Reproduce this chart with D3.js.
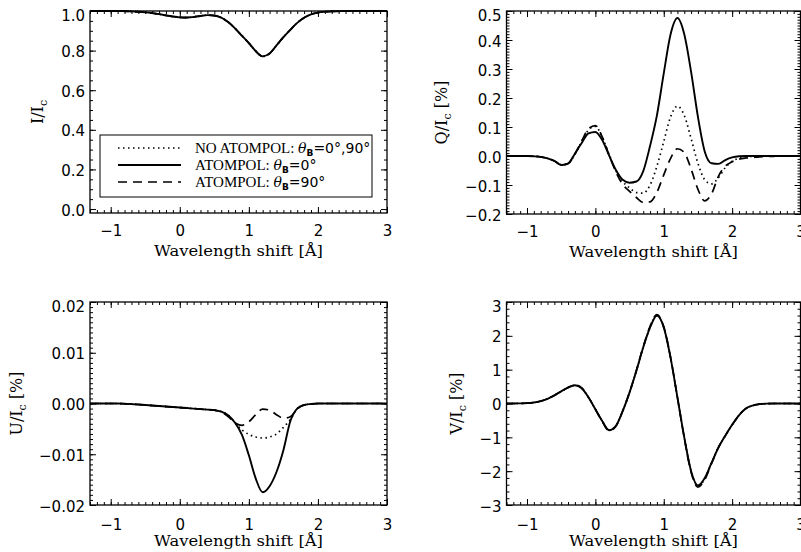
<!DOCTYPE html>
<html>
<head>
<meta charset="utf-8">
<script src="https://cdn.jsdelivr.net/npm/d3@7"></script>
<style>
  body { margin: 0; background: #fff; }
  svg { display: block; }
</style>
</head>
<body>
<svg id="chart" width="801" height="552"></svg>
<script>
// wavelength shift grid [Å]
const wavelength = [-1.3, -1.2, -1.1, -1.0, -0.9, -0.8, -0.7, -0.6, -0.5, -0.4, -0.3, -0.2, -0.1, 0.0,
  0.1, 0.2, 0.3, 0.4, 0.5, 0.6, 0.7, 0.8, 0.9, 1.0, 1.1, 1.2, 1.3, 1.4, 1.5, 1.6, 1.7, 1.8, 1.9, 2.0,
  2.1, 2.2, 2.3, 2.4, 2.5, 2.6, 2.7, 2.8, 2.9, 3.0]

// Stokes I (all three cases overlap)
const iProfile = [1.0, 1.0, 1.0, 1.0, 1.0, 0.999, 0.998, 0.996, 0.993, 0.989, 0.984, 0.978, 0.972, 0.968,
  0.967, 0.970, 0.975, 0.979, 0.977, 0.966, 0.944, 0.912, 0.875, 0.838, 0.797, 0.771, 0.785, 0.826, 0.868, 0.905, 0.940, 0.966, 0.983, 0.992,
  0.996, 0.998, 0.999, 1.0, 1.0, 1.0, 1.0, 1.0, 1.0, 1.0]

// Stokes Q/Ic [%]
const qNoAtompol = [0, 0, 0, 0, -0.001, -0.003, -0.008, -0.017, -0.030, -0.026, 0.006, 0.050, 0.090, 0.102,
  0.065, 0.005, -0.050, -0.088, -0.110, -0.126, -0.128, -0.100, -0.035, 0.050, 0.135, 0.172, 0.140, 0.060, -0.025, -0.082, -0.096, -0.075, -0.040, -0.018,
  -0.008, -0.003, -0.001, 0, 0, 0, 0, 0, 0, 0]
const qAtompol0 = [0, 0, 0, 0, -0.001, -0.003, -0.008, -0.017, -0.031, -0.026, 0.008, 0.045, 0.078, 0.083,
  0.055, 0.002, -0.048, -0.082, -0.092, -0.088, -0.052, 0.035, 0.140, 0.285, 0.420, 0.476, 0.420, 0.290, 0.135, 0.015, -0.025, -0.027, -0.014, -0.005,
  -0.001, 0, 0, 0, 0, 0, 0, 0, 0, 0]
const qAtompol90 = [0, 0, 0, 0, -0.001, -0.003, -0.008, -0.017, -0.030, -0.026, 0.006, 0.052, 0.094, 0.105,
  0.066, 0.004, -0.055, -0.098, -0.122, -0.143, -0.160, -0.158, -0.125, -0.065, -0.008, 0.025, 0.012, -0.045, -0.115, -0.155, -0.130, -0.070, -0.035, -0.020,
  -0.011, -0.007, -0.005, -0.003, -0.002, -0.001, 0, 0, 0, 0]

// Stokes U/Ic [%]
const uNoAtompol = [0, 0, 0, 0, 0, -0.00005, -0.0001, -0.0002, -0.0003, -0.0004, -0.0005, -0.0006, -0.0007, -0.0008,
  -0.0009, -0.0010, -0.0011, -0.0012, -0.0013, -0.0016, -0.0023, -0.0038, -0.0052, -0.0061, -0.0066, -0.0068, -0.0066, -0.0060, -0.0047, -0.0032, -0.0010, -0.0003, -0.0001, 0,
  0, 0, 0, 0, 0, 0, 0, 0, 0, 0]
const uAtompol0 = [0, 0, 0, 0, 0, -0.00005, -0.0001, -0.0002, -0.0003, -0.0004, -0.0005, -0.0006, -0.0007, -0.0008,
  -0.0009, -0.0010, -0.0011, -0.0012, -0.0013, -0.0016, -0.0023, -0.0038, -0.0062, -0.0102, -0.0148, -0.0175, -0.0163, -0.0135, -0.0092, -0.0035, -0.0010, -0.0003, -0.0001, 0,
  0, 0, 0, 0, 0, 0, 0, 0, 0, 0]
const uAtompol90 = [0, 0, 0, 0, 0, -0.00005, -0.0001, -0.0002, -0.0003, -0.0004, -0.0005, -0.0006, -0.0007, -0.0008,
  -0.0009, -0.0010, -0.0011, -0.0012, -0.0013, -0.0017, -0.0026, -0.0038, -0.0043, -0.0036, -0.0022, -0.0011, -0.0013, -0.0022, -0.0029, -0.0026, -0.0011, -0.0003, -0.0001, 0,
  0, 0, 0, 0, 0, 0, 0, 0, 0, 0]

// Stokes V/Ic [%]
const vNoAtompol = [0, 0, 0.004, 0.01, 0.03, 0.07, 0.14, 0.24, 0.36, 0.47, 0.54, 0.45, 0.18, -0.17,
  -0.52, -0.79, -0.66, -0.22, 0.33, 0.97, 1.66, 2.25, 2.60, 2.25, 1.35, 0.18, -1.0, -2.0, -2.44, -2.22, -1.75, -1.3, -0.95, -0.63,
  -0.35, -0.15, -0.06, -0.02, -0.005, 0, 0, 0, 0, 0]
const vAtompol0 = [0, 0, 0.004, 0.01, 0.03, 0.07, 0.14, 0.24, 0.36, 0.47, 0.54, 0.45, 0.18, -0.17,
  -0.52, -0.79, -0.66, -0.22, 0.33, 0.97, 1.66, 2.25, 2.60, 2.25, 1.35, 0.18, -1.0, -2.0, -2.42, -2.2, -1.75, -1.3, -0.95, -0.63,
  -0.35, -0.15, -0.06, -0.02, -0.005, 0, 0, 0, 0, 0]
const vAtompol90 = [0, 0, 0.004, 0.01, 0.03, 0.07, 0.14, 0.24, 0.36, 0.47, 0.55, 0.46, 0.18, -0.17,
  -0.53, -0.81, -0.67, -0.22, 0.33, 0.98, 1.68, 2.28, 2.63, 2.27, 1.36, 0.18, -1.02, -2.03, -2.47, -2.25, -1.77, -1.3, -0.95, -0.63,
  -0.35, -0.15, -0.06, -0.02, -0.005, 0, 0, 0, 0, 0]

const xTicks = [-1, 0, 1, 2, 3]
const iTicks = [0, 0.2, 0.4, 0.6, 0.8, 1.0]
const qTicks = [-0.2, -0.1, 0, 0.1, 0.2, 0.3, 0.4, 0.5]
const uTicks = [-0.02, -0.01, 0, 0.01, 0.02]
const vTicks = [-3, -2, -1, 0, 1, 2, 3]

const legendCases = ['NO ATOMPOL:', 'ATOMPOL:', 'ATOMPOL:']
const legendAngles = ['=0°,90°', '=0°', '=90°']

const svg = d3.select('#chart')
svg.append('rect').attr('width', 801).attr('height', 552).attr('fill', '#fff')

// line style per case: dotted, solid, dashed
const styles = [
  { dash: '1.5,3.5', width: 1.7 },
  { dash: null, width: 1.9 },
  { dash: '9,6', width: 1.7 }
]

const panels = [
  { left: 90, top: 11, w: 297, h: 202, ydom: [-0.02, 1.0], yticks: iTicks, fmt: '.1f',
    minor: d3.range(0, 21).map(i => i * 0.05), lab: ['I/I', 'c', ''], labX: 43, row: 0,
    series: [iProfile, iProfile, iProfile] },
  { left: 506.5, top: 11, w: 294, h: 203, ydom: [-0.2, 0.5], yticks: qTicks, fmt: '.1f',
    minor: d3.range(-20, 51).map(i => i * 0.01), lab: ['Q/I', 'c', ' [%]'], labX: 447, row: 0,
    series: [qNoAtompol, qAtompol0, qAtompol90] },
  { left: 90, top: 302, w: 297, h: 203, ydom: [-0.02, 0.02], yticks: uTicks, fmt: '.2f',
    minor: d3.range(-20, 21).map(i => i * 0.001), lab: ['U/I', 'c', ' [%]'], labX: 22, row: 1,
    series: [uNoAtompol, uAtompol0, uAtompol90] },
  { left: 506.5, top: 302, w: 294, h: 203, ydom: [-3, 3], yticks: vTicks, fmt: 'd',
    minor: d3.range(-15, 16).map(i => i * 0.2), lab: ['V/I', 'c', ' [%]'], labX: 462, row: 1,
    series: [vNoAtompol, vAtompol0, vAtompol90] }
]

const xMinor = d3.range(-13, 31).map(i => i / 10)

function tickAxis(g, axis, values, size) {
  g.call(axis.tickValues(values).tickSize(-size).tickSizeOuter(0).tickFormat(''))
  g.select('.domain').remove()
  g.selectAll('line').attr('stroke', '#000').attr('stroke-width', 1)
}

panels.forEach((p, pi) => {
  const x = d3.scaleLinear().domain([-1.3, 3.0]).range([p.left, p.left + p.w])
  const y = d3.scaleLinear().domain(p.ydom).range([p.top + p.h, p.top])
  const g = svg.append('g')

  // clip for curves
  const clipId = 'clip' + pi
  svg.append('clipPath').attr('id', clipId)
    .append('rect').attr('x', p.left).attr('y', p.top - 1).attr('width', p.w).attr('height', p.h + 2)

  const line = d3.line()
    .x((d, i) => x(wavelength[i]))
    .y(d => y(d))
    .curve(d3.curveMonotoneX)

  // dotted, dashed first, solid on top
  ;[0, 2, 1].forEach(k => {
    g.append('path')
      .attr('d', line(p.series[k]))
      .attr('clip-path', 'url(#' + clipId + ')')
      .attr('fill', 'none')
      .attr('stroke', '#000')
      .attr('stroke-width', styles[k].width)
      .attr('stroke-dasharray', styles[k].dash)
  })

  // ticks on all four sides, pointing inward
  const bottom = p.top + p.h
  const right = p.left + p.w
  tickAxis(g.append('g').attr('transform', `translate(0,${bottom})`), d3.axisBottom(x), xMinor, 3)
  tickAxis(g.append('g').attr('transform', `translate(0,${bottom})`), d3.axisBottom(x), xTicks, 6)
  tickAxis(g.append('g').attr('transform', `translate(0,${p.top})`), d3.axisTop(x), xMinor, 3)
  tickAxis(g.append('g').attr('transform', `translate(0,${p.top})`), d3.axisTop(x), xTicks, 6)
  tickAxis(g.append('g').attr('transform', `translate(${p.left},0)`), d3.axisLeft(y), p.minor, 3)
  tickAxis(g.append('g').attr('transform', `translate(${p.left},0)`), d3.axisLeft(y), p.yticks, 6)
  tickAxis(g.append('g').attr('transform', `translate(${right},0)`), d3.axisRight(y), p.minor, 3)
  tickAxis(g.append('g').attr('transform', `translate(${right},0)`), d3.axisRight(y), p.yticks, 6)

  g.append('rect')
    .attr('x', p.left).attr('y', p.top).attr('width', p.w).attr('height', p.h)
    .attr('fill', 'none').attr('stroke', '#000').attr('stroke-width', 1.3)

  // tick labels
  const xl = g.append('g').attr('transform', `translate(0,${bottom})`)
    .call(d3.axisBottom(x).tickValues(xTicks).tickSize(0)
      .tickPadding(p.row === 0 ? 12 : 14).tickFormat(d3.format('d')))
  xl.select('.domain').remove()
  xl.selectAll('text').attr('font-family', 'DejaVu Sans').attr('font-size', 15).attr('fill', '#000')

  const topTick = p.ydom[1]
  const yl = g.append('g').attr('transform', `translate(${p.left},0)`)
    .call(d3.axisLeft(y).tickValues(p.yticks).tickSize(0).tickPadding(5).tickFormat(d3.format(p.fmt)))
  yl.select('.domain').remove()
  yl.selectAll('text').attr('font-family', 'DejaVu Sans').attr('font-size', 15).attr('fill', '#000')
    .attr('dy', d => Math.abs(d - topTick) < 1e-9 ? '0.6em' : '0.4em')

  // axis titles
  g.append('text')
    .attr('x', p.left + p.w / 2).attr('y', bottom + (p.row === 0 ? 43 : 41))
    .attr('text-anchor', 'middle')
    .attr('font-family', 'DejaVu Serif').attr('font-size', 15)
    .attr('textLength', 169).attr('lengthAdjust', 'spacingAndGlyphs')
    .text('Wavelength shift [Å]')

  const yt = g.append('text')
    .attr('transform', `translate(${p.labX},${p.top + p.h / 2}) rotate(-90)`)
    .attr('text-anchor', 'middle')
    .attr('font-family', 'DejaVu Serif').attr('font-size', 16)
  yt.append('tspan').text(p.lab[0])
  yt.append('tspan').attr('font-size', 11).attr('dy', 4).text(p.lab[1])
  if (p.lab[2]) yt.append('tspan').attr('dy', -4).text(p.lab[2])

  // legend in the first panel
  if (pi === 0) {
    g.append('rect').attr('x', 100).attr('y', 135).attr('width', 272).attr('height', 62)
      .attr('fill', '#fff').attr('stroke', '#000').attr('stroke-width', 1)
    const rows = [148, 165, 182]
    legendCases.forEach((c, k) => {
      g.append('line').attr('x1', 118).attr('x2', 181).attr('y1', rows[k]).attr('y2', rows[k])
        .attr('stroke', '#000').attr('stroke-width', styles[k].width)
        .attr('stroke-dasharray', styles[k].dash)
      const t = g.append('text').attr('x', 195).attr('y', rows[k] + 5)
        .attr('font-family', 'Liberation Serif').attr('font-size', 15)
      t.append('tspan').text(c + ' ')
      t.append('tspan').attr('font-family', 'DejaVu Serif').attr('font-style', 'italic')
        .attr('font-size', 14).text('θ')
      t.append('tspan').attr('font-family', 'DejaVu Sans').attr('font-weight', 'bold')
        .attr('font-size', 9).attr('dy', 3).text('B')
      t.append('tspan').attr('font-family', 'DejaVu Sans').attr('font-size', 14)
        .attr('dy', -3).text(legendAngles[k])
    })
  }
})
</script>
</body>
</html>
